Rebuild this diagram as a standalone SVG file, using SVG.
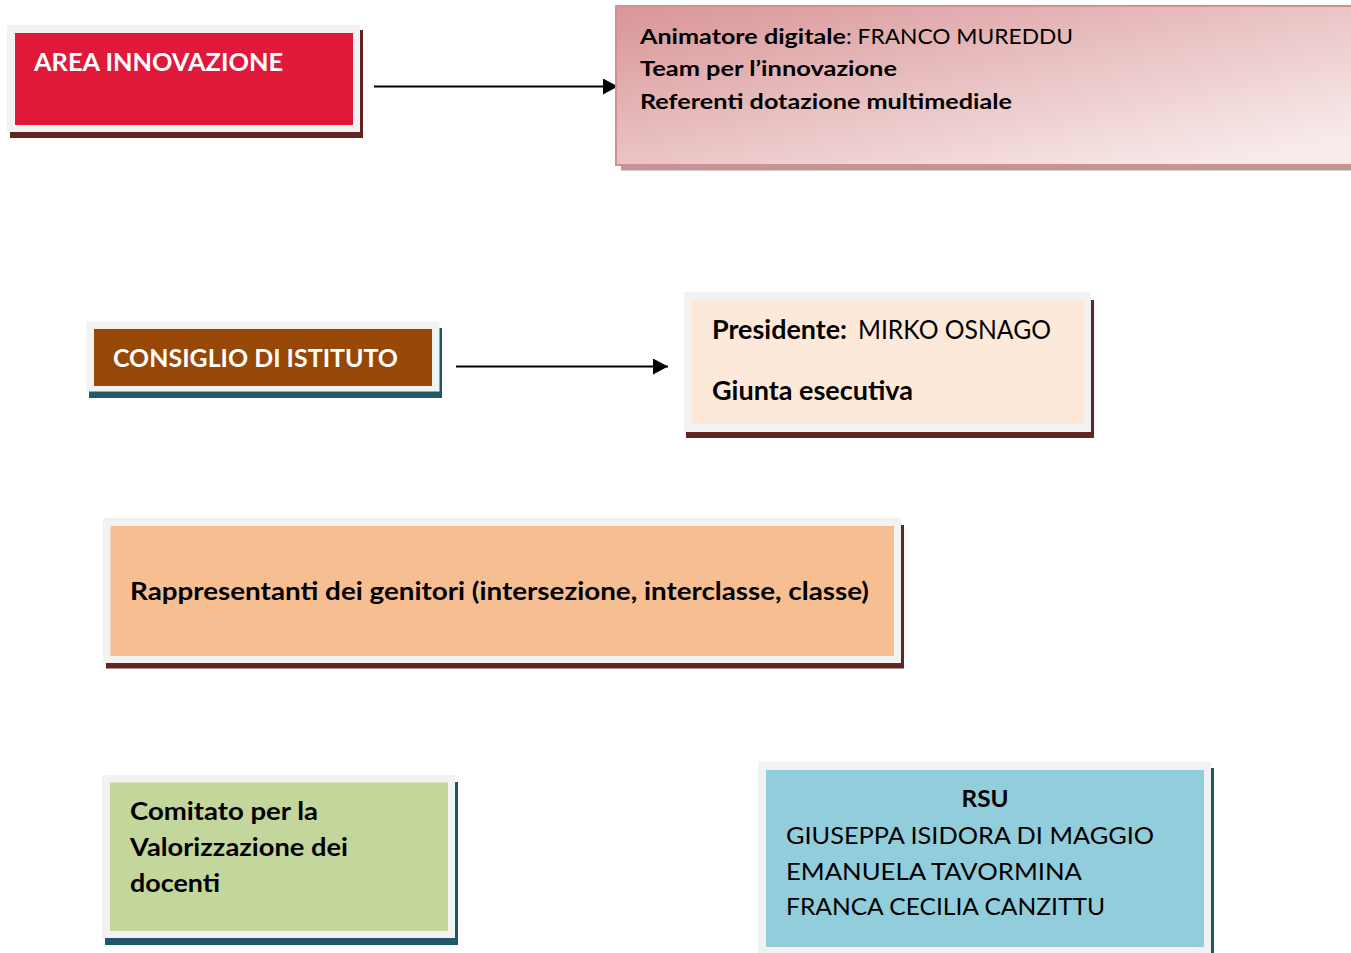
<svg xmlns="http://www.w3.org/2000/svg" width="1351" height="953" viewBox="0 0 1351 953">
<defs>
<style>
.frame{fill:#f2f2f2}
.sh-red{fill:#632523}
.sh-teal{fill:#215867}
.t{font-family:"Lato","Open Sans",sans-serif;fill:#000}
.b{font-weight:bold}
.w{fill:#ffffff}
.conn{stroke:#000;stroke-width:2;fill:none}
</style>
<linearGradient id="pinkGrad" gradientUnits="userSpaceOnUse" x1="616" y1="6" x2="677" y2="283">
<stop offset="0" stop-color="#d99597"/>
<stop offset="1" stop-color="#f8eaea"/>
</linearGradient>
<marker id="arrow" markerUnits="userSpaceOnUse" markerWidth="16" markerHeight="16" refX="15" refY="8" orient="auto">
<path d="M0,0 L15,8 L0,16 z" fill="#000"/>
</marker>
</defs>
<rect width="1351" height="953" fill="#ffffff"/>

<g id="connectors">
<line class="conn" x1="374" y1="86.5" x2="618" y2="86.5" marker-end="url(#arrow)"/>
<line class="conn" x1="456" y1="366.5" x2="668" y2="366.5" marker-end="url(#arrow)"/>
</g>

<g id="area-innovazione">
<rect class="sh-red" x="10" y="30" width="353" height="108"/>
<rect class="frame" x="7" y="25" width="353" height="107"/>
<rect x="15" y="33" width="338" height="92" fill="#e0193a"/>
<text class="t b w" x="34" y="71" font-size="25" textLength="249" lengthAdjust="spacingAndGlyphs">AREA INNOVAZIONE</text>
</g>

<g id="innovazione-dettagli">
<rect x="621" y="165" width="730" height="5.5" fill="#bd9797"/>
<rect x="616" y="6" width="740" height="159" fill="url(#pinkGrad)" stroke="#d88e91" stroke-width="2"/>
<text class="t b" x="640" y="43.5" font-size="21" textLength="206" lengthAdjust="spacingAndGlyphs">Animatore digitale</text>
<text class="t" x="846" y="43.5" font-size="21" textLength="227" lengthAdjust="spacingAndGlyphs">: FRANCO MUREDDU</text>
<text class="t b" x="640" y="76" font-size="21" textLength="257" lengthAdjust="spacingAndGlyphs">Team per l’innovazione</text>
<text class="t b" x="640" y="108.5" font-size="21" textLength="372" lengthAdjust="spacingAndGlyphs">Referenti dotazione multimediale</text>
</g>

<g id="consiglio-istituto">
<rect class="sh-teal" x="89" y="328" width="353" height="70"/>
<rect class="frame" x="86.5" y="321.5" width="353" height="70"/>
<rect x="94" y="329" width="338" height="57" fill="#984806"/>
<text class="t b w" x="113" y="367" font-size="25" textLength="285" lengthAdjust="spacingAndGlyphs">CONSIGLIO DI ISTITUTO</text>
</g>

<g id="consiglio-dettagli">
<rect class="sh-red" x="686" y="300" width="408" height="138"/>
<rect class="frame" x="684" y="292" width="407" height="140"/>
<rect x="692" y="300" width="392" height="124" fill="#fde9d9"/>
<text class="t b" x="712" y="338.5" font-size="27.5" textLength="135" lengthAdjust="spacingAndGlyphs">Presidente:</text>
<text class="t" x="858" y="338.5" font-size="27.5" textLength="193" lengthAdjust="spacingAndGlyphs">MIRKO OSNAGO</text>
<text class="t b" x="712" y="400" font-size="27.5" textLength="201" lengthAdjust="spacingAndGlyphs">Giunta esecutiva</text>
</g>

<g id="rappresentanti-genitori">
<rect class="sh-red" x="106" y="525" width="798" height="143.5"/>
<rect class="frame" x="103" y="518" width="798" height="145"/>
<rect x="110.5" y="526" width="783.5" height="130" fill="#f7be91"/>
<text class="t b" x="130" y="599.5" font-size="24.5" textLength="739" lengthAdjust="spacingAndGlyphs">Rappresentanti dei genitori (intersezione, interclasse, classe)</text>
</g>

<g id="comitato-valorizzazione">
<rect class="sh-teal" x="105" y="782" width="353" height="163"/>
<rect class="frame" x="102" y="775" width="353" height="163"/>
<rect x="110" y="782.5" width="338" height="148.5" fill="#c3d69b"/>
<text class="t b" x="130" y="820" font-size="24" textLength="188" lengthAdjust="spacingAndGlyphs">Comitato per la</text>
<text class="t b" x="130" y="856" font-size="24" textLength="218" lengthAdjust="spacingAndGlyphs">Valorizzazione dei</text>
<text class="t b" x="130" y="892" font-size="24" textLength="90" lengthAdjust="spacingAndGlyphs">docenti</text>
</g>

<g id="rsu">
<rect class="sh-teal" x="761" y="768" width="453" height="190"/>
<rect class="frame" x="758" y="761.5" width="453" height="195"/>
<rect x="766" y="770" width="438" height="177" fill="#92cddc"/>
<text class="t b" x="985" y="807" font-size="23" text-anchor="middle" textLength="47" lengthAdjust="spacingAndGlyphs">RSU</text>
<text class="t" x="786" y="844" font-size="24" textLength="368" lengthAdjust="spacingAndGlyphs">GIUSEPPA ISIDORA DI MAGGIO</text>
<text class="t" x="786" y="880" font-size="24" textLength="296" lengthAdjust="spacingAndGlyphs">EMANUELA TAVORMINA</text>
<text class="t" x="786" y="915" font-size="24" textLength="319" lengthAdjust="spacingAndGlyphs">FRANCA CECILIA CANZITTU</text>
</g>
</svg>
